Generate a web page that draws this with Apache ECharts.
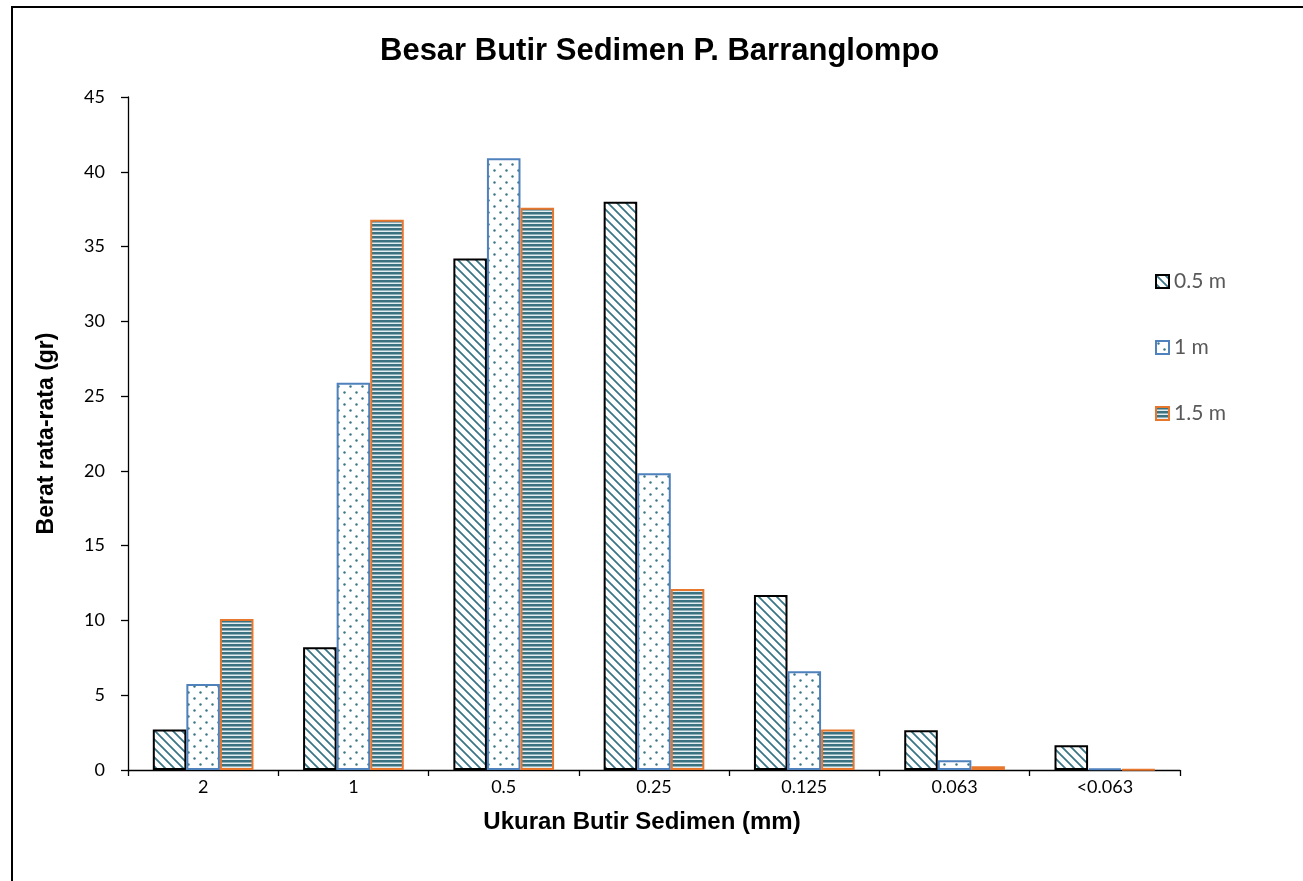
<!DOCTYPE html>
<html>
<head>
<meta charset="utf-8">
<script src="https://cdn.jsdelivr.net/npm/echarts@6/dist/echarts.min.js"></script>
<style>
  html, body { margin: 0; padding: 0; background: #fff; }
  #chart { width: 1303px; height: 881px; }
</style>
</head>
<body>
<div id="chart"></div>
<script>
// Grain size classes (mm) and mean weights (gr) per sampling depth
const categories = ['2', '1', '0.5', '0.25', '0.125', '0.063', '<0.063'];
const seriesNames = ['0.5 m', '1 m', '1.5 m'];
const depth05 = [2.7, 8.2, 34.2, 38.0, 11.7, 2.65, 1.65];
const depth10 = [5.75, 25.9, 40.9, 19.85, 6.6, 0.65, 0.1];
const depth15 = [10.1, 36.8, 37.6, 12.1, 2.7, 0.25, 0.05];
const yTicks = { min: 0, max: 45, interval: 5 };

// Hatch fills for the bars
function makeCanvas(w, h, draw) {
  const c = document.createElement('canvas');
  c.width = w; c.height = h;
  const ctx = c.getContext('2d');
  ctx.fillStyle = '#ffffff';
  ctx.fillRect(0, 0, w, h);
  draw(ctx);
  return c;
}
const teal = '#3a7686';

const diagFill = makeCanvas(9, 9, ctx => {
  ctx.strokeStyle = teal;
  ctx.lineWidth = 1.8;
  ctx.beginPath();
  ctx.moveTo(-2, -2); ctx.lineTo(11, 11);
  ctx.moveTo(-11, -2); ctx.lineTo(2, 11);
  ctx.moveTo(7, -2); ctx.lineTo(20, 11);
  ctx.stroke();
});

const dotFill = makeCanvas(12, 12, ctx => {
  ctx.fillStyle = teal;
  [[2.5, 2.5], [8.5, 8.5]].forEach(([x, y]) => {
    ctx.beginPath();
    ctx.arc(x, y, 1.2, 0, Math.PI * 2);
    ctx.fill();
  });
});

const hStripeFill = makeCanvas(4, 4, ctx => {
  ctx.fillStyle = '#3b7281';
  ctx.fillRect(0, 0, 4, 2);
  ctx.fillStyle = '#8fb0b8';
  ctx.fillRect(0, 2, 4, 1);
  ctx.fillStyle = '#e3ecee';
  ctx.fillRect(0, 3, 4, 1);
});

const fills = [
  { fill: diagFill, border: '#000000' },
  { fill: dotFill, border: '#4f81bd' },
  { fill: hStripeFill, border: '#e8772e' }
];
const values = [depth05, depth10, depth15];

const boldFont = 'Liberation Sans, Arial, sans-serif';
const bodyFont = 'Lato, Open Sans, sans-serif';

const chart = echarts.init(document.getElementById('chart'));

chart.setOption({
  backgroundColor: '#ffffff',
  animation: false,
  title: {
    text: 'Besar Butir Sedimen P. Barranglompo',
    left: 375,
    top: 31,
    textStyle: { fontFamily: boldFont, fontSize: 31, fontWeight: 'bold', color: '#000' }
  },
  graphic: [{
    type: 'polyline',
    shape: { points: [[12, 900], [12, 7], [1310, 7]] },
    style: { stroke: '#000', lineWidth: 2, fill: null },
    silent: true
  }],
  legend: {
    orient: 'vertical',
    left: 1150,
    top: 266,
    itemWidth: 13,
    itemHeight: 13,
    itemGap: 45,
    icon: 'rect',
    textStyle: { fontFamily: bodyFont, fontSize: 21, color: '#595959' },
    data: seriesNames
  },
  grid: { left: 128, right: 123, top: 97, bottom: 111, containLabel: false },
  xAxis: {
    type: 'category',
    data: categories,
    name: 'Ukuran Butir Sedimen (mm)',
    nameLocation: 'middle',
    nameGap: 40,
    nameTextStyle: { fontFamily: boldFont, fontSize: 24, fontWeight: 'bold', color: '#000', padding: [0, 24, 0, 0] },
    axisLine: { lineStyle: { color: '#000', width: 1.3 } },
    axisTick: { show: true, alignWithLabel: false, length: 6, lineStyle: { color: '#000', width: 1.3 } },
    axisLabel: { fontFamily: bodyFont, fontSize: 18, color: '#000', margin: 8 },
    splitLine: { show: false }
  },
  yAxis: {
    type: 'value',
    min: yTicks.min,
    max: yTicks.max,
    interval: yTicks.interval,
    name: 'Berat rata-rata (gr)',
    nameLocation: 'middle',
    nameGap: 70,
    nameRotate: 90,
    nameTextStyle: { fontFamily: boldFont, fontSize: 23, fontWeight: 'bold', color: '#000' },
    axisLine: { show: true, lineStyle: { color: '#000', width: 1.3 } },
    axisTick: { show: true, length: 7, lineStyle: { color: '#000', width: 1.3 } },
    axisLabel: { fontFamily: bodyFont, fontSize: 18, color: '#000', margin: 23 },
    splitLine: { show: false }
  },
  series: seriesNames.map((name, i) => ({
    name: name,
    type: 'bar',
    data: values[i],
    barGap: '0%',
    barCategoryGap: '33%',
    itemStyle: {
      color: { image: fills[i].fill, repeat: 'repeat' },
      borderColor: fills[i].border,
      borderWidth: 2
    }
  }))
});
</script>
</body>
</html>
